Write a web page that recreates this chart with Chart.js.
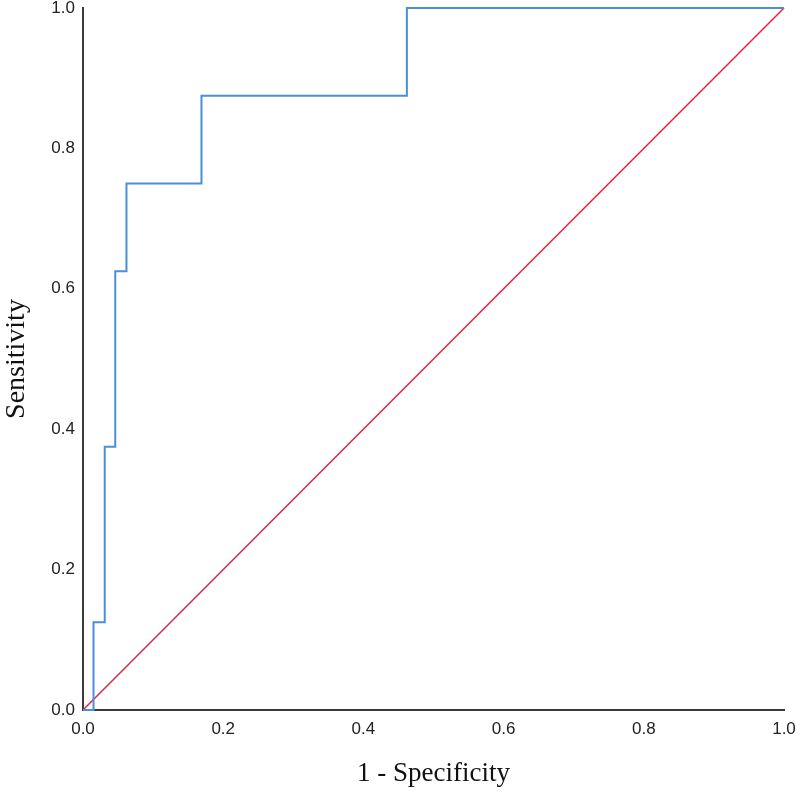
<!DOCTYPE html>
<html>
<head>
<meta charset="utf-8">
<script src="https://cdn.jsdelivr.net/npm/chart.js@4"></script>
<style>
  html, body { margin: 0; padding: 0; background: #fff; }
  #wrap { width: 800px; height: 794px; }
</style>
</head>
<body>
<div id="wrap"><canvas id="roc-chart"></canvas></div>
<script>
// ROC curve points (1 - specificity, sensitivity)
var fpr = [0, 0.015, 0.031, 0.046, 0.062, 0.169, 0.462, 1];
var tpr = [0, 0.125, 0.375, 0.625, 0.75, 0.875, 1, 1];
// reference diagonal
var refX = [0, 1];
var refY = [0, 1];
var tickValues = [0, 0.2, 0.4, 0.6, 0.8, 1.0];

function toPoints(xs, ys) {
    var pts = [];
    for (var i = 0; i < xs.length; i++) {
        pts.push({ x: xs[i], y: ys[i] });
    }
    return pts;
}

var axisColor = "#3a3a3a";

new Chart(document.getElementById("roc-chart"), {
    type: 'line',
    data: {
        datasets: [
            {
                data: toPoints(fpr, tpr),
                borderColor: "#4a8fd8",
                borderWidth: 2,
                stepped: 'before',
                pointRadius: 0,
                clip: false,
                fill: false
            },
            {
                data: toPoints(refX, refY),
                borderColor: "#e5213c",
                borderWidth: 1.5,
                pointRadius: 0,
                clip: false,
                fill: false
            }
        ]
    },
    options: {
        responsive: true,
        maintainAspectRatio: false,
        animation: false,
        layout: { padding: { top: 8, right: 16, left: 0, bottom: 0 } },
        plugins: {
            legend: { display: false },
            tooltip: { enabled: false }
        },
        scales: {
            x: {
                type: 'linear',
                min: 0,
                max: 1,
                afterBuildTicks: function (scale) {
                    scale.ticks = tickValues.map(function (v) { return { value: v }; });
                },
                afterFit: function (scale) {
                    scale.height = 84;
                    scale.paddingLeft = 0;
                    scale.paddingRight = 0;
                },
                grid: { display: false, drawTicks: false },
                border: { display: true, color: axisColor, width: 2 },
                ticks: {
                    color: "#222",
                    padding: 9,
                    maxRotation: 0,
                    font: { family: "'Liberation Sans', Arial", size: 17 },
                    callback: function (v) { return v.toFixed(1); }
                },
                title: {
                    display: true,
                    text: '1 - Specificity',
                    color: "#111",
                    padding: { top: 18 },
                    font: { family: "'Liberation Serif', 'Times New Roman'", size: 27 }
                }
            },
            y: {
                type: 'linear',
                min: 0,
                max: 1,
                afterBuildTicks: function (scale) {
                    scale.ticks = tickValues.map(function (v) { return { value: v }; });
                },
                afterFit: function (scale) {
                    scale.width = 83;
                    scale.paddingTop = 0;
                    scale.paddingBottom = 0;
                },
                grid: { display: false, drawTicks: false },
                border: { display: true, color: axisColor, width: 2 },
                ticks: {
                    color: "#222",
                    padding: 8,
                    font: { family: "'Liberation Sans', Arial", size: 17 },
                    callback: function (v) { return v.toFixed(1); }
                },
                title: {
                    display: true,
                    text: 'Sensitivity',
                    color: "#111",
                    padding: { top: 0, bottom: 0 },
                    font: { family: "'Liberation Serif', 'Times New Roman'", size: 28 }
                }
            }
        }
    }
});
</script>
</body>
</html>
